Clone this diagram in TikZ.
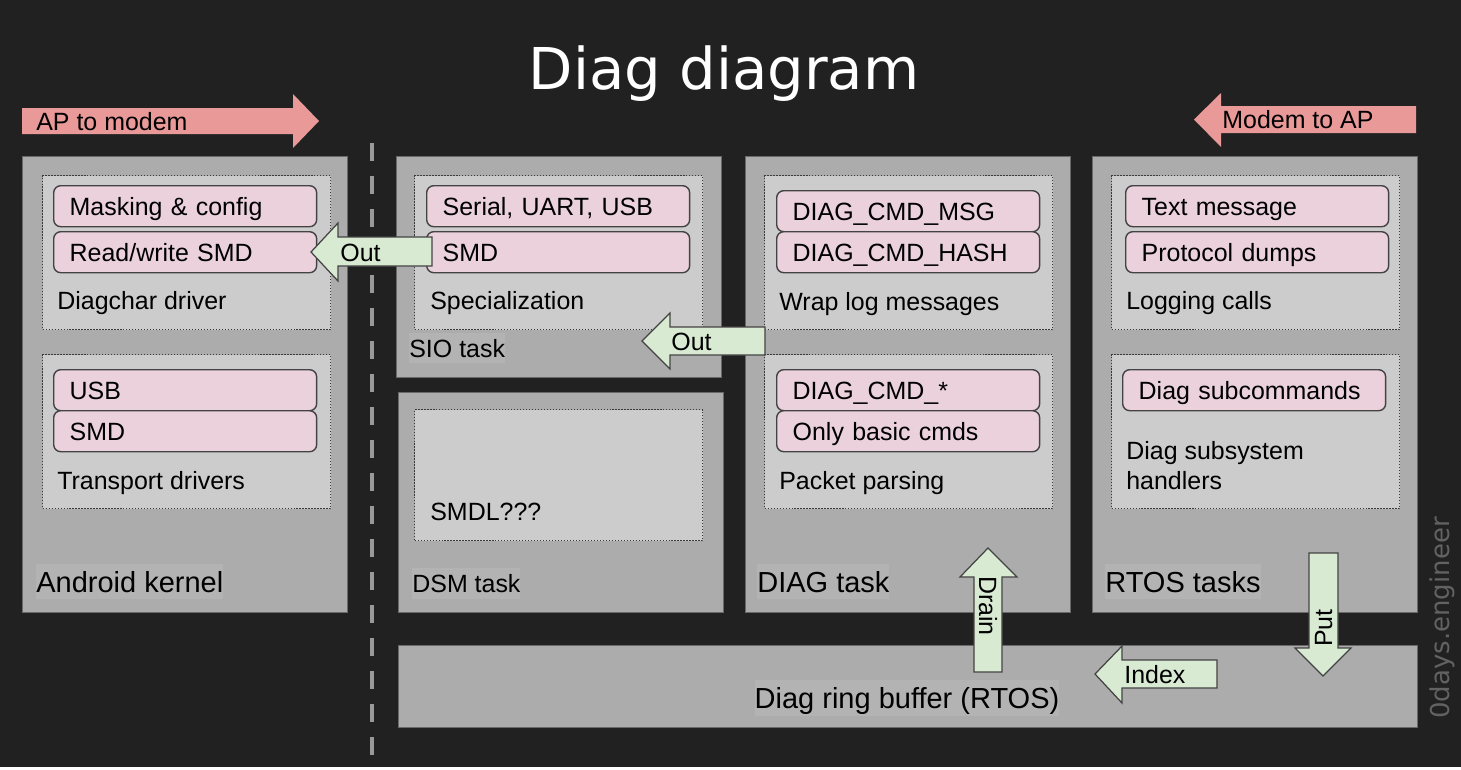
\documentclass[tikz,border=0pt]{standalone}
\usepackage{fontspec}
\setmainfont{Liberation Sans}
\newfontfamily\dejavu{DejaVu Sans}
\usepackage{xcolor}
\usepackage{tikz}
\usetikzlibrary{positioning}

\definecolor{bgdark}{HTML}{212121}
\definecolor{taskgray}{HTML}{ACACAC}
\definecolor{labelgray}{HTML}{B3B3B3}
\definecolor{innergray}{HTML}{CCCCCC}
\definecolor{subpink}{HTML}{EAD1DC}
\definecolor{flowgreen}{HTML}{D9EAD3}
\definecolor{dirred}{HTML}{EA9999}
\definecolor{edgegray}{HTML}{434343}
\definecolor{dotgray}{HTML}{3A3A3A}
\definecolor{markgray}{HTML}{626262}
\definecolor{dashgray}{HTML}{999999}

\newcommand{\diagtxt}{\fontsize{14.2}{17.1}\selectfont}
\newcommand{\diagbig}{\fontsize{16.5}{19}\selectfont}

\begin{document}
\begin{tikzpicture}[x=0.02cm, y=-0.02cm]
    \tikzset{task/.style = {draw=edgegray!80, fill=taskgray, line width=0.6pt, anchor=north west, minimum width=6.5cm, minimum height=9.12cm, inner sep=0pt}}
    \tikzset{group/.style = {draw=dotgray, fill=innergray, line width=0.7pt, dash pattern=on 0.7pt off 1.0pt, anchor=north west, minimum width=5.76cm, minimum height=3.08cm, inner sep=0pt}}
    \tikzset{item/.style = {draw=edgegray, fill=subpink, line width=0.8pt, rounded corners=4pt, anchor=north west, minimum width=5.26cm, minimum height=0.82cm, text width=4.62cm, align=left, inner xsep=0.32cm, text height=0.36cm, text depth=0pt, font=\diagtxt}}
    \tikzset{caption/.style = {anchor=west, inner sep=0pt, text height=0.36cm, text depth=0pt, font=\diagtxt}}
    \tikzset{tasklabel/.style = {anchor=west, fill=labelgray, inner xsep=0pt, inner ysep=0pt, minimum height=0.7cm, text height=0.42cm, text depth=0pt, font=\diagbig}}
    \tikzset{smalllabel/.style = {tasklabel, minimum height=0.6cm, text height=0.36cm, font=\diagtxt}}
    \tikzset{flow/.style = {draw=edgegray, fill=flowgreen, line width=0.7pt}}
    \tikzset{dir/.style = {fill=dirred}}
    \tikzset{arrowtext/.style = {inner sep=0pt, text height=0.36cm, text depth=0pt, font=\diagtxt}}

    \fill[bgdark] (0,0) rectangle (1461,767);
    \draw[dashgray, line width=2.6pt, dash pattern=on 0.36cm off 0.3cm] (372,143) -- (372,767);

    \node[white, font=\dejavu\fontsize{32.8}{36}\selectfont, anchor=base, inner sep=0pt] (title) at (724,89) {Diag diagram};
    \node[markgray, font=\dejavu\fontsize{14.8}{17}\selectfont, rotate=90, inner sep=0pt] (mark) at (1442,618) {0days.engineer};

    % direction arrows
    \fill[dir] (22,108) -- (293,108) -- (293,94) -- (319,121) -- (293,148) -- (293,134) -- (22,134) -- cycle;
    \node[arrowtext, anchor=west] (ap2modem) at (36,121.5) {AP to modem};
    \fill[dir] (1416,106) -- (1221,106) -- (1221,93) -- (1194,119.5) -- (1221,147) -- (1221,133) -- (1416,133) -- cycle;
    \node[arrowtext, anchor=west] (modem2ap) at (1222,119.5) {Modem to AP};

    % tasks
    \node[task] (kernel) at (22,156) {};
    \node[task, minimum height=4.42cm] (sio) at (396,156) {};
    \node[task, minimum height=4.4cm] (dsm) at (398,392) {};
    \node[task] (diag) at (745,156) {};
    \node[task] (rtos) at (1092,156) {};
    \node[task, minimum width=20.38cm, minimum height=1.64cm] (ring) at (398,645) {};

    % Android kernel
    \node[group] (chardrv) at (42,175) {};
    \node[item] (masking) at (53,185) {Masking \& config};
    \node[item] (rwsmd) at (53,231) {Read/write SMD};
    \node[caption] (chardrvtxt) at (57,300.5) {Diagchar driver};
    \node[group] (transport) at (42,354) {};
    \node[item] (usb) at (53,369) {USB};
    \node[item] (ksmd) at (53,410) {SMD};
    \node[caption] (transporttxt) at (57,480) {Transport drivers};
    \node[tasklabel] (kerneltxt) at (36,581.5) {Android kernel};

    % SIO task
    \node[group] (spec) at (414,175) {};
    \node[item] (serial) at (426,185) {Serial, UART, USB};
    \node[item] (siosmd) at (426,231) {SMD};
    \node[caption] (spectxt) at (430,300.5) {Specialization};
    \node[smalllabel] (siotxt) at (409,348) {SIO task};

    % DSM task
    \node[group, minimum width=5.76cm, minimum height=2.62cm] (smdl) at (414,409) {};
    \node[caption] (smdltxt) at (430,511) {SMDL???};
    \node[smalllabel, minimum height=0.62cm] (dsmtxt) at (412,583.5) {DSM task};

    % DIAG task
    \node[group] (wrap) at (764,175) {};
    \node[item] (cmdmsg) at (776,190) {DIAG\_CMD\_MSG};
    \node[item] (cmdhash) at (776,231) {DIAG\_CMD\_HASH};
    \node[caption] (wraptxt) at (779,301) {Wrap log messages};
    \node[group] (parse) at (764,354) {};
    \node[item] (cmdany) at (776,369) {DIAG\_CMD\_*};
    \node[item] (basic) at (776,410) {Only basic cmds};
    \node[caption] (parsetxt) at (779,480) {Packet parsing};
    \node[tasklabel] (diagtxt) at (757,581.5) {DIAG task};

    % RTOS tasks
    \node[group] (logging) at (1111,175) {};
    \node[item] (textmsg) at (1125,185) {Text message};
    \node[item] (dumps) at (1125,231) {Protocol dumps};
    \node[caption] (loggingtxt) at (1126,300.5) {Logging calls};
    \node[group] (subsys) at (1111,354) {};
    \node[item] (subcmd) at (1122,369) {Diag subcommands};
    \node[anchor=north west, inner sep=0pt, align=left, font=\diagtxt] (subsystxt) at (1126,441) {Diag subsystem\\handlers};
    \node[tasklabel] (rtostxt) at (1105,581.5) {RTOS tasks};

    \node[tasklabel, anchor=center, minimum height=0.72cm] (ringtxt) at (907,698) {Diag ring buffer (RTOS)};

    % data flow arrows
    \filldraw[flow] (432,237) -- (338,237) -- (338,223) -- (311,252) -- (338,281) -- (338,266) -- (432,266) -- cycle;
    \node[arrowtext, anchor=west] (out1) at (340,252.5) {Out};
    \filldraw[flow] (765,327) -- (670,327) -- (670,313) -- (642,341) -- (670,369) -- (670,355) -- (765,355) -- cycle;
    \node[arrowtext, anchor=west] (out2) at (671,341) {Out};
    \filldraw[flow] (974,672) -- (974,577) -- (960,577) -- (988,548) -- (1017,577) -- (1002,577) -- (1002,672) -- cycle;
    \node[arrowtext, rotate=-90] (drain) at (988,606) {Drain};
    \filldraw[flow] (1309,553) -- (1338,553) -- (1338,648) -- (1351,648) -- (1323,676) -- (1295,648) -- (1309,648) -- cycle;
    \node[arrowtext, rotate=90] (put) at (1323,628) {Put};
    \filldraw[flow] (1217,660) -- (1122,660) -- (1122,646) -- (1095,674) -- (1122,703) -- (1122,688) -- (1217,688) -- cycle;
    \node[arrowtext, anchor=west] (index) at (1124,674) {Index};
\end{tikzpicture}
\end{document}
